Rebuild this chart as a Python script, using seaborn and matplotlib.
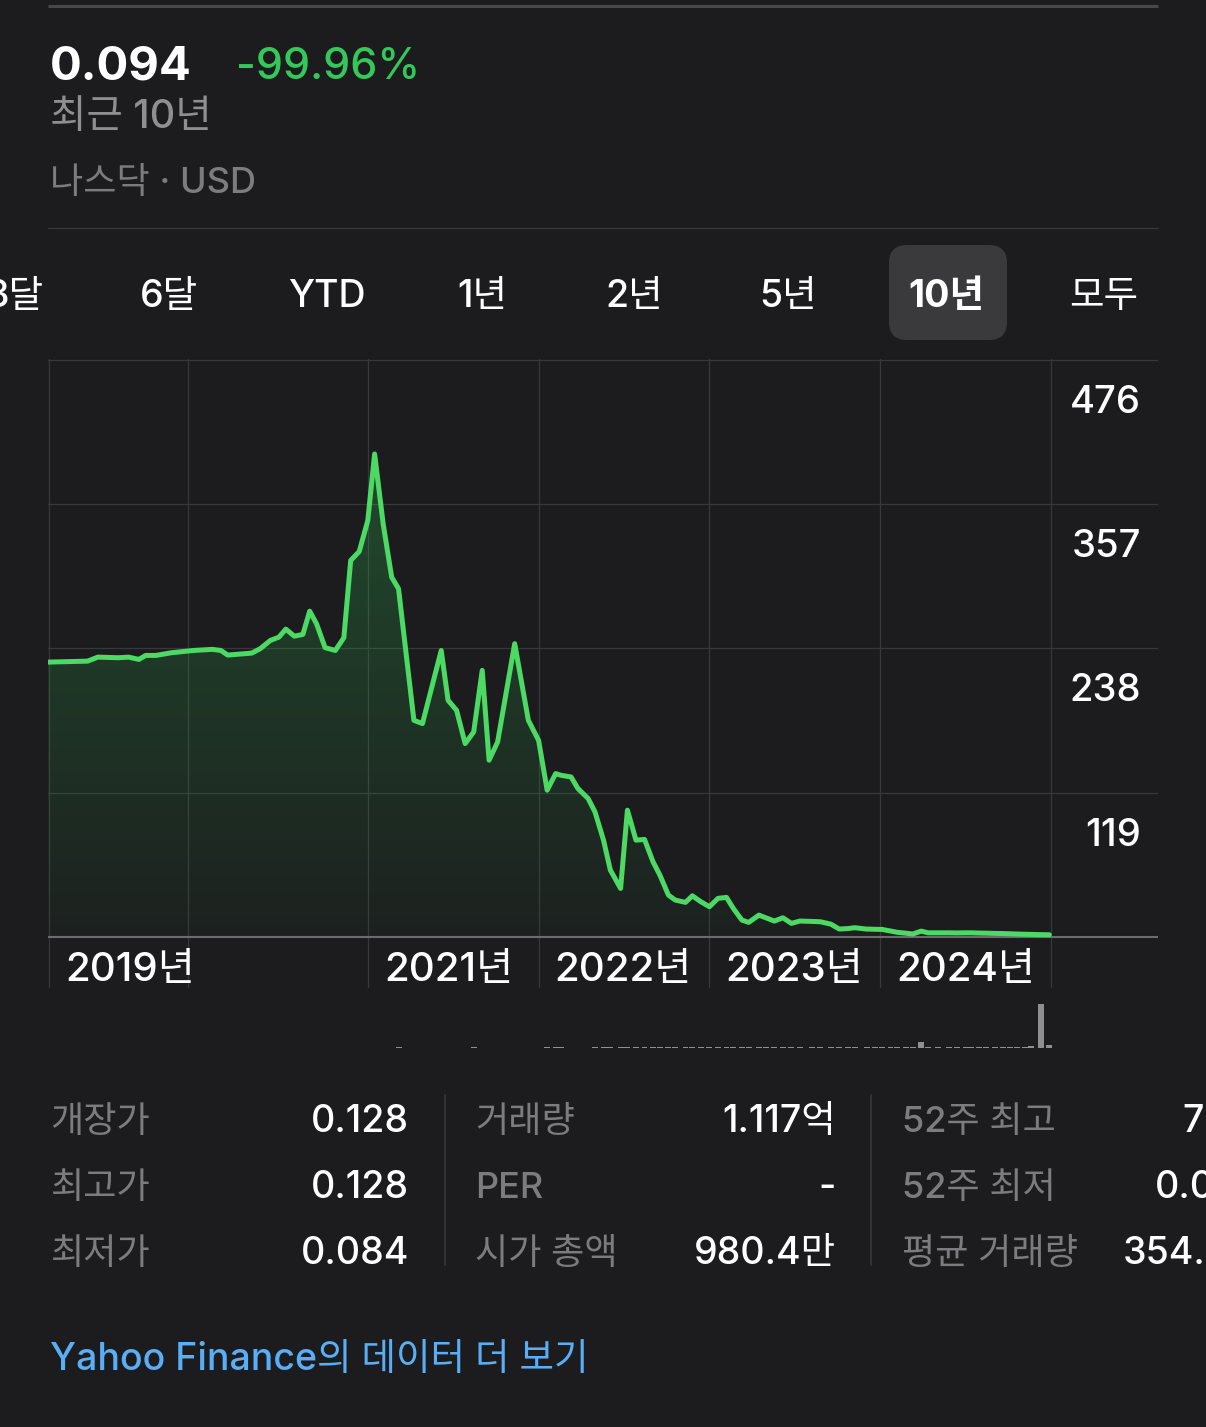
import numpy as np
import pandas as pd
import matplotlib
matplotlib.use("Agg")
import matplotlib.pyplot as plt
from matplotlib.patches import FancyBboxPatch
import seaborn as sns

""" Data read off the 10-year chart """

# price samples: fractional year and closing price (USD)
year = [2019.13, 2019.36, 2019.42, 2019.54, 2019.60, 2019.66, 2019.70, 2019.76, 2019.85, 2019.98,
        2020.09, 2020.14, 2020.18, 2020.32, 2020.37, 2020.43, 2020.48, 2020.52, 2020.57, 2020.62,
        2020.66, 2020.70, 2020.75, 2020.81, 2020.86, 2020.90, 2020.95, 2021.00, 2021.04, 2021.09,
        2021.14, 2021.18, 2021.27, 2021.32, 2021.43, 2021.47, 2021.52, 2021.57, 2021.62, 2021.67,
        2021.71, 2021.76, 2021.86, 2021.94, 2022.00, 2022.05, 2022.10, 2022.13, 2022.19, 2022.23,
        2022.29, 2022.33, 2022.38, 2022.42, 2022.48, 2022.52, 2022.57, 2022.62, 2022.67, 2022.71,
        2022.76, 2022.80, 2022.86, 2022.90, 2022.95, 2023.00, 2023.05, 2023.10, 2023.14, 2023.19,
        2023.23, 2023.29, 2023.33, 2023.38, 2023.43, 2023.48, 2023.53, 2023.60, 2023.65, 2023.71,
        2023.76, 2023.81, 2023.85, 2023.92, 2023.97, 2024.01, 2024.06, 2024.10, 2024.15, 2024.19,
        2024.24, 2024.28, 2024.34, 2024.40, 2024.45, 2024.50, 2024.53, 2024.58, 2024.62, 2024.67,
        2024.72, 2024.76, 2024.80, 2024.85, 2024.88, 2024.94, 2024.99]
price = [226.7, 227.5, 230.8, 230.3, 230.8, 228.9, 232.2, 232.2, 234.4, 236.3,
         237.2, 236.3, 232.5, 234.1, 237.7, 244.6, 247.3, 253.9, 248.1, 249.5,
         268.7, 258.3, 238.6, 236.3, 246.8, 310.5, 317.9, 343.4, 398.3, 340.7,
         296.7, 287.2, 178.7, 176.0, 236.3, 195.2, 186.9, 159.5, 169.1, 219.9,
         145.8, 160.8, 241.9, 178.7, 162.2, 121.1, 134.8, 133.4, 132.0, 122.5,
         114.2, 103.2, 79.9, 55.2, 40.1, 104.6, 79.9, 80.5, 62.0, 51.1,
         34.6, 30.5, 28.6, 34.0, 29.1, 25.0, 31.9, 32.7, 23.6, 14.0,
         12.1, 18.1, 15.9, 13.2, 15.9, 11.3, 13.2, 12.9, 12.6, 10.7,
         6.6, 7.0, 7.7, 6.6, 6.4, 6.3, 5.0, 3.9, 3.2, 2.5,
         4.9, 3.5, 3.5, 3.5, 3.4, 3.5, 3.5, 3.3, 3.2, 3.0,
         2.9, 2.7, 2.5, 2.3, 2.2, 2.0, 1.9]
# traded volume (millions of shares) at the same samples
volume = [0, 0, 0, 0, 0, 0, 0, 0, 0, 0,
          0, 0, 0, 0, 0, 0, 0, 0, 0, 0,
          0, 0, 0, 0, 0.8, 0.8, 1.0, 0.8, 1.0, 1.2,
          1.0, 1.8, 1.0, 0.8, 1.0, 0.8, 1.0, 1.0, 1.8, 1.0,
          0.8, 1.0, 1.0, 1.2, 1.0, 1.5, 1.8, 1.5, 1.2, 1.0,
          1.2, 1.5, 1.5, 1.8, 1.8, 1.5, 1.8, 2.0, 1.8, 1.8,
          2.0, 2.0, 2.0, 1.8, 2.0, 2.0, 2.2, 2.0, 2.0, 2.2,
          2.0, 2.2, 2.0, 2.0, 2.2, 2.0, 2.2, 2.2, 2.0, 2.2,
          2.2, 2.0, 2.2, 2.2, 2.0, 2.2, 2.2, 2.2, 2.0, 2.2,
          15.0, 2.5, 2.2, 2.2, 2.2, 2.2, 2.2, 2.2, 2.2, 2.2,
          2.2, 2.2, 2.5, 2.5, 5.0, 112.0, 7.5]

grid_years = [2019.134, 2019.95, 2021, 2022, 2023, 2024, 2025]
year_labels = ["2019년", "2021년", "2022년", "2023년", "2024년"]
year_label_pos = [2019.134, 2021, 2022, 2023, 2024]
y_ticks = [119, 238, 357, 476]

tabs = ["3달", "6달", "YTD", "1년", "2년", "5년", "10년", "모두"]
tab_x = [15, 169, 327, 482, 634, 788, 946, 1104]
active_tab = "10년"

stat_labels = [["개장가", "최고가", "최저가"],
               ["거래량", "PER", "시가 총액"],
               ["52주 최고", "52주 최저", "평균 거래량"]]
stat_values = [["0.128", "0.128", "0.084"],
               ["1.117억", "-", "980.4만"],
               ["7.20", "0.084", "354.2만"]]

df = pd.DataFrame({"year": year, "price": price, "volume": volume})

""" Style """

BG = "#1c1c1e"
LINE = "#4cd964"
GREEN_TXT = "#34c759"
GRAY = "#8e8e93"
GRID = "#38383a"

sns.set_theme(style="dark", rc={"axes.facecolor": BG, "figure.facecolor": BG})
# Inter for digits / latin, Noto CJK picks up the hangul
plt.rcParams["font.family"] = ["Inter", "Noto Sans CJK KR", "DejaVu Sans"]

W, H = 1206, 1427
fig = plt.figure(figsize=(W / 100, H / 100), dpi=100)
fig.patch.set_facecolor(BG)

# overlay in pixel coordinates for the page text
ov = fig.add_axes([0, 0, 1, 1], zorder=0)
ov.set_xlim(0, W)
ov.set_ylim(H, 0)
ov.axis("off")
ov.patch.set_alpha(0)

ov.plot([48, 1158], [6, 6], color="#48484a", lw=2.2, solid_capstyle="butt")
ov.plot([48, 1158], [228, 228], color=GRID, lw=0.9)

ov.text(50, 80, "0.094", color="white", fontsize=34, fontweight="bold", va="baseline")
ov.text(236, 79, "-99.96%", color=GREEN_TXT, fontsize=31, fontweight="medium", va="baseline")
ov.text(50, 128, "최근 10년", color=GRAY, fontsize=28.5, fontweight="medium", va="baseline")
ov.text(50, 193, "나스닥 · USD", color="#7c7c80", fontsize=26, fontweight="medium", va="baseline")

# range tabs
ov.add_patch(FancyBboxPatch((889, 245), 118, 95, boxstyle="round,pad=0,rounding_size=18",
                            fc="#3a3a3c", ec="none"))
for t, x in zip(tabs, tab_x):
    ov.text(x, 307, t, color="white", fontsize=27, ha="center", va="baseline",
            fontweight="bold" if t == active_tab else "medium")

""" Price chart """

ax = fig.add_axes([48 / W, 1 - 988 / H, 1110 / W, 629 / H], zorder=1)
xmin, xmax = 2019.128, 2025.626
ymin, ymax = -42.0, 476.6

# gradient under the line
fill = ax.fill_between(df["year"], df["price"], 0, color="none", lw=0)
grad = np.linspace(0, 1, 256).reshape(-1, 1)
rgba = np.zeros((256, 1, 4))
rgba[..., 0], rgba[..., 1], rgba[..., 2] = 0.19, 0.82, 0.35
rgba[..., 3] = 0.03 + 0.27 * grad
img = ax.imshow(rgba, extent=[xmin, xmax, 0, 476], origin="lower", aspect="auto", zorder=1)
img.set_clip_path(fill.get_paths()[0], transform=ax.transData)

sns.lineplot(data=df, x="year", y="price", color=LINE, lw=3.6, ax=ax, zorder=3)
ax.axhline(0, color="#6c6c70", lw=1.5, zorder=2)

ax.set_xlim(xmin, xmax)
ax.set_ylim(ymin, ymax)
ax.set_xticks(grid_years)
ax.set_yticks(y_ticks)
ax.grid(True, color=GRID, lw=0.9)
ax.tick_params(length=0, labelbottom=False, labelleft=False)
ax.set_xlabel("")
ax.set_ylabel("")
for s in ax.spines.values():
    s.set_visible(False)

for lab, pos in zip(year_labels, year_label_pos):
    ax.annotate(lab, xy=(pos, 0), xytext=(16, -44), textcoords="offset pixels",
                color="white", fontsize=29, fontweight="medium", va="baseline", ha="left",
                annotation_clip=False)
for v in y_ticks:
    ax.annotate(str(v), xy=(xmax, v), xytext=(-17, -53), textcoords="offset pixels",
                color="white", fontsize=27.5, fontweight="medium", va="baseline", ha="right",
                annotation_clip=False)

""" Volume strip """

vx = fig.add_axes([48 / W, 1 - 1050 / H, 1110 / W, 55 / H], zorder=1)
vx.bar(df["year"], df["volume"], width=0.035, color=GRAY, lw=0)
vx.set_xlim(xmin, xmax)
vx.set_ylim(-5, 135)
vx.axis("off")

""" Key stats table """

col_label_x = [50, 475, 902]
col_value_x = [409, 836, 1263]
row_y = [1132, 1198, 1264]
for c in range(3):
    for r in range(3):
        ov.text(col_label_x[c], row_y[r], stat_labels[c][r], color="#7c7c80",
                fontsize=26, fontweight="medium", va="baseline", ha="left")
        ov.text(col_value_x[c], row_y[r], stat_values[c][r], color="white",
                fontsize=27, fontweight="medium", va="baseline", ha="right")
for x in [445, 871]:
    ov.plot([x, x], [1095, 1265], color=GRID, lw=1.2)

ov.text(50, 1370, "Yahoo Finance의 데이터 더 보기", color="#5aaef5", fontsize=27,
        fontweight="medium", va="baseline")

fig.savefig("out.png", dpi=100, facecolor=BG)
